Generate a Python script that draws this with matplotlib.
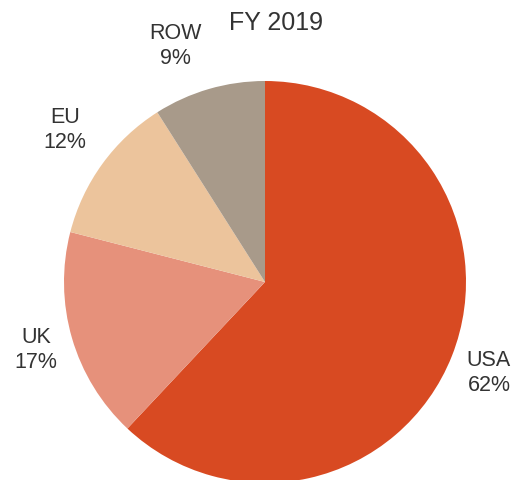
import matplotlib
matplotlib.use("Agg")
import matplotlib.pyplot as plt

categories = ["USA", "UK", "EU", "ROW"]
shares = [62, 17, 12, 9]
colors = ["#D84A22", "#E6917B", "#ECC49C", "#A89A8A"]
title = "FY 2019"

plt.rcParams['font.family'] = ['Liberation Sans', 'DejaVu Sans']

W, H = 515, 481
fig = plt.figure(figsize=(W / 100, H / 100), dpi=100)
ax = fig.add_axes([0, 0, 1, 1])
ax.set_xlim(0, W)
ax.set_ylim(0, H)
ax.axis("off")

cx, cy, r = 265, H - 283, 201
ax.pie(shares, colors=colors, startangle=90, counterclock=False,
       center=(cx, cy), radius=r, frame=True,
       wedgeprops=dict(linewidth=0))
ax.set_xlim(0, W)
ax.set_ylim(0, H)
ax.set_aspect("auto")
ax.axis("off")

label_pos = [(489, 373), (36, 350), (65, 130), (175, 46)]
for name, val, (x, y) in zip(categories, shares, label_pos):
    ax.text(x, H - y, f"{name}\n{val}%", ha="center", va="center",
            fontsize=15.5, color="#333333", linespacing=1.25)

ax.text(276, H - 23, title, ha="center", va="center", fontsize=18, color="#333333")

fig.savefig("out.png", dpi=100)
